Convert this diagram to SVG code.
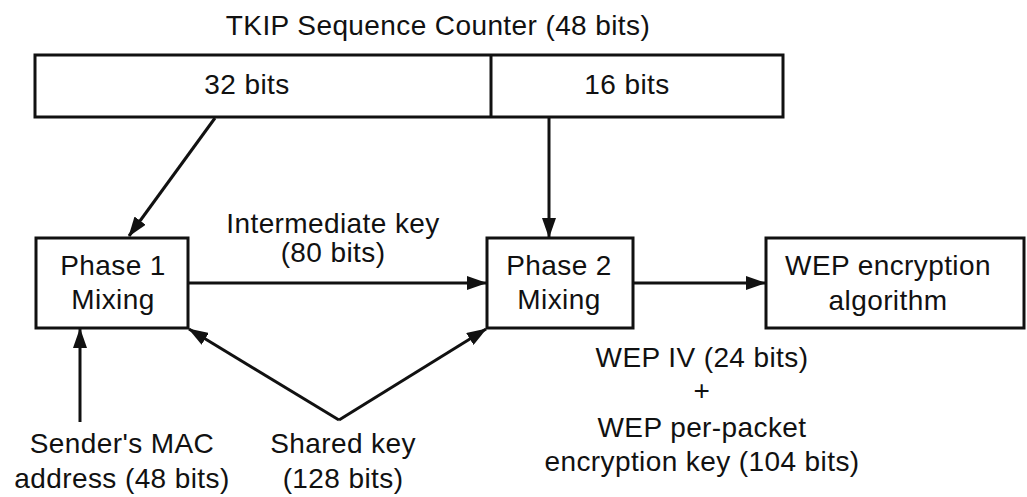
<svg xmlns="http://www.w3.org/2000/svg" width="1027" height="497" viewBox="0 0 1027 497">
<defs>
<marker id="arr" viewBox="0 0 20 14" refX="19" refY="7" markerWidth="20" markerHeight="14" markerUnits="userSpaceOnUse" orient="auto">
<path d="M0,0 L20,7 L0,14 Z" fill="#111"/>
</marker>
</defs>
<style>
.box{fill:#fff;stroke:#111;stroke-width:3}
.t{font-family:"Liberation Sans",Arial,sans-serif;font-size:28px;fill:#111;text-anchor:middle;letter-spacing:0.4px}
.c{fill:none;stroke:#111;stroke-width:3;marker-end:url(#arr)}
</style>
<rect width="1027" height="497" fill="#fff"/>
<text class="t" x="438" y="35">TKIP Sequence Counter (48 bits)</text>
<g id="counter">
<rect class="box" x="35" y="55" width="748" height="62"/>
<line x1="491" y1="55" x2="491" y2="117" stroke="#111" stroke-width="3"/>
<text class="t" x="247" y="94">32 bits</text>
<text class="t" x="627" y="94">16 bits</text>
</g>
<g id="phase1">
<rect class="box" x="36" y="238" width="152" height="90"/>
<text class="t" x="113" y="275">Phase 1</text>
<text class="t" x="113" y="309">Mixing</text>
</g>
<g id="phase2">
<rect class="box" x="487" y="238" width="146" height="90"/>
<text class="t" x="559" y="275">Phase 2</text>
<text class="t" x="559" y="309">Mixing</text>
</g>
<g id="wep">
<rect class="box" x="766" y="238" width="258" height="90"/>
<text class="t" x="888" y="275">WEP encryption</text>
<text class="t" x="888" y="310">algorithm</text>
</g>
<g id="connectors">
<line class="c" x1="215" y1="118" x2="129" y2="236"/>
<line class="c" x1="549" y1="118" x2="549" y2="237"/>
<line class="c" x1="188" y1="283" x2="486" y2="283"/>
<line class="c" x1="633" y1="283" x2="765" y2="283"/>
<line class="c" x1="80" y1="422" x2="80" y2="329"/>
<polyline class="c" points="339,420 189,329"/>
<polyline class="c" points="339,420 486,329"/>
</g>
<g id="labels">
<text class="t" x="333" y="233">Intermediate key</text>
<text class="t" x="333" y="262">(80 bits)</text>
<text class="t" x="122" y="453">Sender's MAC</text>
<text class="t" x="122" y="488">address (48 bits)</text>
<text class="t" x="343" y="453">Shared key</text>
<text class="t" x="343" y="488">(128 bits)</text>
<text class="t" x="702" y="367">WEP IV (24 bits)</text>
<text class="t" x="702" y="400">+</text>
<text class="t" x="702" y="437">WEP per-packet</text>
<text class="t" x="702" y="471">encryption key (104 bits)</text>
</g>
</svg>
